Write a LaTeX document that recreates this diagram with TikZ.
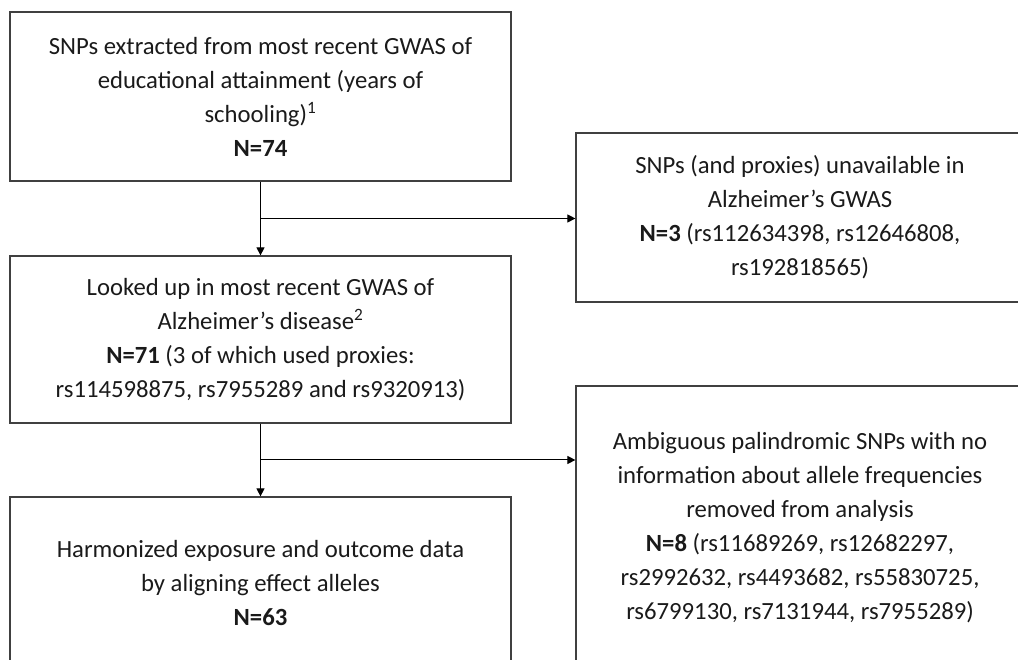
\documentclass[tikz,border=0pt]{standalone}
\usepackage{fontspec}
\setmainfont{Carlito}
\usepackage{tikz}
\usetikzlibrary{arrows.meta,positioning,calc}
\definecolor{boxline}{HTML}{404040}
\definecolor{txt}{HTML}{1A1A1A}

\begin{document}
\begin{tikzpicture}[x=1pt,y=1pt,
    flowbox/.style={draw=boxline,line width=1.2pt,align=center,
      text=txt,inner sep=0pt,font=\fontsize{24.7}{34}\selectfont},
    arr/.style={line width=1pt,-{Triangle[length=8pt,width=8pt]}}]
        % Frame of the picture (right and lower boxes run off the edge)
        \useasboundingbox (0,0) rectangle (1018,660);
        \clip (0,0) rectangle (1018,660);

        % Boxes
        \node[flowbox,minimum width=501pt,minimum height=169pt] (edu) at (260.5,563.5)
          {SNPs extracted from most recent GWAS of\\educational attainment (years of\\schooling)\textsuperscript{1}\\\textbf{N=74}};
        \node[flowbox,minimum width=448pt,minimum height=169pt] (miss) at (800,442.5)
          {SNPs (and proxies) unavailable in\\Alzheimer’s GWAS\\\textbf{N=3} (rs112634398, rs12646808,\\rs192818565)};
        \node[flowbox,minimum width=501pt,minimum height=167pt] (ad) at (260.5,320.5)
          {Looked up in most recent GWAS of\\Alzheimer’s disease\textsuperscript{2}\\\textbf{N=71} (3 of which used proxies:\\rs114598875, rs7955289 and rs9320913)};
        \node[flowbox,minimum width=448pt,minimum height=284pt] (pal) at (800,132)
          {Ambiguous palindromic SNPs with no\\information about allele frequencies\\removed from analysis\\\textbf{N=8} (rs11689269, rs12682297,\\rs2992632, rs4493682, rs55830725,\\rs6799130, rs7131944, rs7955289)};
        \node[flowbox,minimum width=501pt,minimum height=172pt] (harm) at (260.5,77)
          {Harmonized exposure and outcome data\\by aligning effect alleles\\\textbf{N=63}};

        % Branch points
        \coordinate (br1) at ($(edu.south)!0.5!(ad.north)$);
        \coordinate (br2) at ($(ad.south)!0.5!(harm.north)$);

        % Connectors
        \draw[arr] (edu.south) -- (ad.north);
        \draw[arr] (br1) -- (br1 -| miss.west);
        \draw[arr] (ad.south) -- (harm.north);
        \draw[arr] (br2) -- (br2 -| pal.west);
      \end{tikzpicture}
\end{document}
